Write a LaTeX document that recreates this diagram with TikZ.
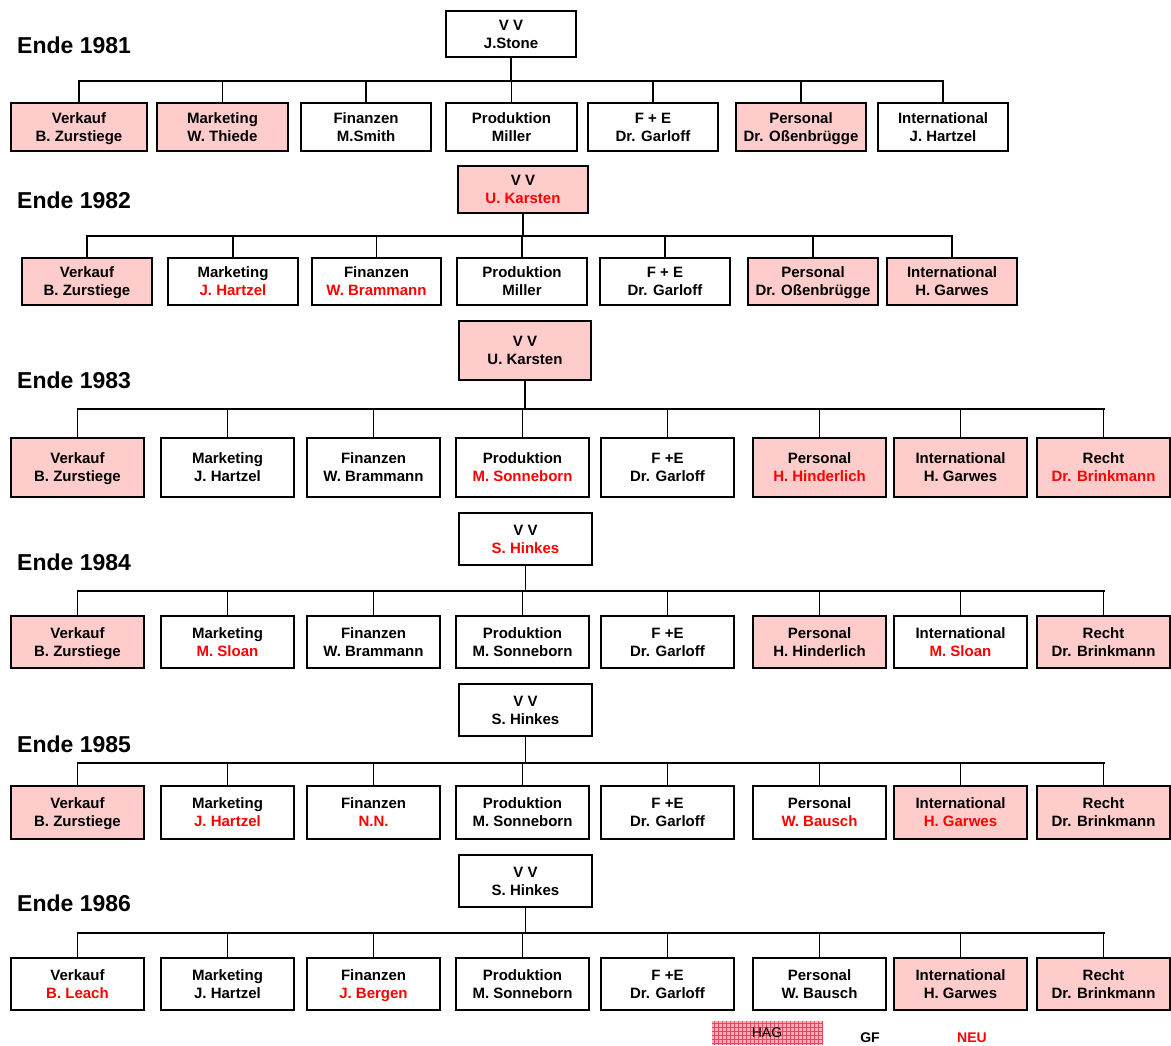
\documentclass[tikz,border=0pt]{standalone}
\usepackage{fontspec}
\setmainfont{Liberation Sans}
\definecolor{hag}{RGB}{255,204,204}
\definecolor{neured}{RGB}{255,0,0}
\definecolor{hagfill}{RGB}{246,176,186}
\definecolor{hagline}{RGB}{232,70,90}
\newcommand\neu[1]{\textcolor{neured}{#1}}
\newcommand\orgbox[7]{\node[obox,#6,minimum width={(#4-#2)*1pt},minimum height={(#5-#3)*1pt}] (#1) at ({(#2+#4)/2},{(#3+#5)/2}) {#7};}
\begin{document}
\begin{tikzpicture}[x=1pt,y=-1pt,
  obox/.style={draw, line width=1.3pt, align=center, inner sep=0pt, fill=white, text depth=0pt,
    font=\fontsize{15}{18}\selectfont\bfseries},
  pinkbox/.style={fill=hag},
  plain/.style={},
  bus/.style={line width=2pt, line cap=rect},
  drop/.style={line width=1.5pt},
  title/.style={anchor=west, inner sep=0pt, font=\fontsize{23}{27}\selectfont\bfseries},
  legtext/.style={inner sep=0pt, font=\fontsize{14}{16}\selectfont}]
\useasboundingbox (0,0) rectangle (1171,1046);

% ---------------- 1981
\node[title] (t81) at (17,45) {Ende 1981};
\orgbox{v81}{446}{11}{576}{57}{plain}{V V\\J.Stone}
\orgbox{a81}{11}{103}{147}{151}{pinkbox}{Verkauf\\B. Zurstiege}
\orgbox{b81}{157}{103}{288}{151}{pinkbox}{Marketing\\W. Thiede}
\orgbox{c81}{301}{103}{431}{151}{plain}{Finanzen\\M.Smith}
\orgbox{d81}{446}{103}{577}{151}{plain}{Produktion\\Miller}
\orgbox{e81}{588}{103}{718}{151}{plain}{F + E\\Dr. Garloff}
\orgbox{f81}{736}{103}{866}{151}{pinkbox}{Personal\\Dr. Oßenbrügge}
\orgbox{g81}{878}{103}{1008}{151}{plain}{International\\J. Hartzel}
\coordinate (y81) at (0,81);
\draw[drop] (v81.south) -- (v81.south |- y81);
\draw[bus] (a81.north |- y81) -- (g81.north |- y81);
\foreach \n in {a81,b81,c81,d81,e81,f81,g81} \draw[drop] (\n.north |- y81) -- (\n.north);

% ---------------- 1982
\node[title] (t82) at (17,200) {Ende 1982};
\orgbox{v82}{458}{166}{588}{213}{pinkbox}{V V\\\neu{U. Karsten}}
\orgbox{a82}{22}{258}{152}{305}{pinkbox}{Verkauf\\B. Zurstiege}
\orgbox{b82}{168}{258}{298}{305}{plain}{Marketing\\\neu{J. Hartzel}}
\orgbox{c82}{312}{258}{441}{305}{plain}{Finanzen\\\neu{W. Brammann}}
\orgbox{d82}{457}{258}{587}{305}{plain}{Produktion\\Miller}
\orgbox{e82}{600}{258}{730}{305}{plain}{F + E\\Dr. Garloff}
\orgbox{f82}{748}{258}{878}{305}{pinkbox}{Personal\\Dr. Oßenbrügge}
\orgbox{g82}{887}{258}{1017}{305}{pinkbox}{International\\H. Garwes}
\coordinate (y82) at (0,236);
\draw[drop] (v82.south) -- (v82.south |- y82);
\draw[bus] (a82.north |- y82) -- (g82.north |- y82);
\foreach \n in {a82,b82,c82,d82,e82,f82,g82} \draw[drop] (\n.north |- y82) -- (\n.north);

% ---------------- 1983
\node[title] (t83) at (17,380) {Ende 1983};
\orgbox{v83}{459}{321}{591}{380}{pinkbox}{V V\\U. Karsten}
\orgbox{a83}{11}{438}{144}{497}{pinkbox}{Verkauf\\B. Zurstiege}
\orgbox{b83}{161}{438}{294}{497}{plain}{Marketing\\J. Hartzel}
\orgbox{c83}{307}{438}{440}{497}{plain}{Finanzen\\W. Brammann}
\orgbox{d83}{456}{438}{589}{497}{plain}{Produktion\\\neu{M. Sonneborn}}
\orgbox{e83}{601}{438}{734}{497}{plain}{F +E\\Dr. Garloff}
\orgbox{f83}{753}{438}{886}{497}{pinkbox}{Personal\\\neu{H. Hinderlich}}
\orgbox{g83}{894}{438}{1027}{497}{pinkbox}{International\\H. Garwes}
\orgbox{h83}{1037}{438}{1170}{497}{pinkbox}{Recht\\\neu{Dr. Brinkmann}}
\coordinate (y83) at (0,409);
\draw[drop] (v83.south) -- (v83.south |- y83);
\draw[bus] (a83.north |- y83) -- (h83.north |- y83);
\foreach \n in {a83,b83,c83,d83,e83,f83,g83,h83} \draw[drop] (\n.north |- y83) -- (\n.north);

% ---------------- 1984
\node[title] (t84) at (17,562) {Ende 1984};
\orgbox{v84}{459}{513}{592}{565}{plain}{V V\\\neu{S. Hinkes}}
\orgbox{a84}{11}{616}{144}{668}{pinkbox}{Verkauf\\B. Zurstiege}
\orgbox{b84}{161}{616}{294}{668}{plain}{Marketing\\\neu{M. Sloan}}
\orgbox{c84}{307}{616}{440}{668}{plain}{Finanzen\\W. Brammann}
\orgbox{d84}{456}{616}{589}{668}{plain}{Produktion\\M. Sonneborn}
\orgbox{e84}{601}{616}{734}{668}{plain}{F +E\\Dr. Garloff}
\orgbox{f84}{753}{616}{886}{668}{pinkbox}{Personal\\H. Hinderlich}
\orgbox{g84}{894}{616}{1027}{668}{plain}{International\\\neu{M. Sloan}}
\orgbox{h84}{1037}{616}{1170}{668}{pinkbox}{Recht\\Dr. Brinkmann}
\coordinate (y84) at (0,591);
\draw[drop] (v84.south) -- (v84.south |- y84);
\draw[bus] (a84.north |- y84) -- (h84.north |- y84);
\foreach \n in {a84,b84,c84,d84,e84,f84,g84,h84} \draw[drop] (\n.north |- y84) -- (\n.north);

% ---------------- 1985
\node[title] (t85) at (17,744) {Ende 1985};
\orgbox{v85}{459}{684}{592}{736}{plain}{V V\\S. Hinkes}
\orgbox{a85}{11}{786}{144}{839}{pinkbox}{Verkauf\\B. Zurstiege}
\orgbox{b85}{161}{786}{294}{839}{plain}{Marketing\\\neu{J. Hartzel}}
\orgbox{c85}{307}{786}{440}{839}{plain}{Finanzen\\\neu{N.N.}}
\orgbox{d85}{456}{786}{589}{839}{plain}{Produktion\\M. Sonneborn}
\orgbox{e85}{601}{786}{734}{839}{plain}{F +E\\Dr. Garloff}
\orgbox{f85}{753}{786}{886}{839}{plain}{Personal\\\neu{W. Bausch}}
\orgbox{g85}{894}{786}{1027}{839}{pinkbox}{International\\\neu{H. Garwes}}
\orgbox{h85}{1037}{786}{1170}{839}{pinkbox}{Recht\\Dr. Brinkmann}
\coordinate (y85) at (0,763);
\draw[drop] (v85.south) -- (v85.south |- y85);
\draw[bus] (a85.north |- y85) -- (h85.north |- y85);
\foreach \n in {a85,b85,c85,d85,e85,f85,g85,h85} \draw[drop] (\n.north |- y85) -- (\n.north);

% ---------------- 1986
\node[title] (t86) at (17,903) {Ende 1986};
\orgbox{v86}{459}{855}{592}{907}{plain}{V V\\S. Hinkes}
\orgbox{a86}{11}{958}{144}{1010}{plain}{Verkauf\\\neu{B. Leach}}
\orgbox{b86}{161}{958}{294}{1010}{plain}{Marketing\\J. Hartzel}
\orgbox{c86}{307}{958}{440}{1010}{plain}{Finanzen\\\neu{J. Bergen}}
\orgbox{d86}{456}{958}{589}{1010}{plain}{Produktion\\M. Sonneborn}
\orgbox{e86}{601}{958}{734}{1010}{plain}{F +E\\Dr. Garloff}
\orgbox{f86}{753}{958}{886}{1010}{plain}{Personal\\W. Bausch}
\orgbox{g86}{894}{958}{1027}{1010}{pinkbox}{International\\H. Garwes}
\orgbox{h86}{1037}{958}{1170}{1010}{pinkbox}{Recht\\Dr. Brinkmann}
\coordinate (y86) at (0,933);
\draw[drop] (v86.south) -- (v86.south |- y86);
\draw[bus] (a86.north |- y86) -- (h86.north |- y86);
\foreach \n in {a86,b86,c86,d86,e86,f86,g86,h86} \draw[drop] (\n.north |- y86) -- (\n.north);

% ---------------- legend
\fill[hagfill] (712,1021) rectangle (822,1045);
\foreach \i in {714,718,...,822} \draw[hagline, line width=0.5pt] (\i,1021) -- (\i,1045);
\foreach \j in {1023,1027,...,1045} \draw[hagline, line width=0.5pt] (712,\j) -- (822,\j);
\node[legtext] (hag) at (767,1033) {HAG};
\node[legtext, font=\fontsize{14}{16}\selectfont\bfseries] (gf) at (870,1038) {GF};
\node[legtext, font=\fontsize{14}{16}\selectfont\bfseries, text=neured] (neu) at (972,1038) {NEU};
\end{tikzpicture}
\end{document}
